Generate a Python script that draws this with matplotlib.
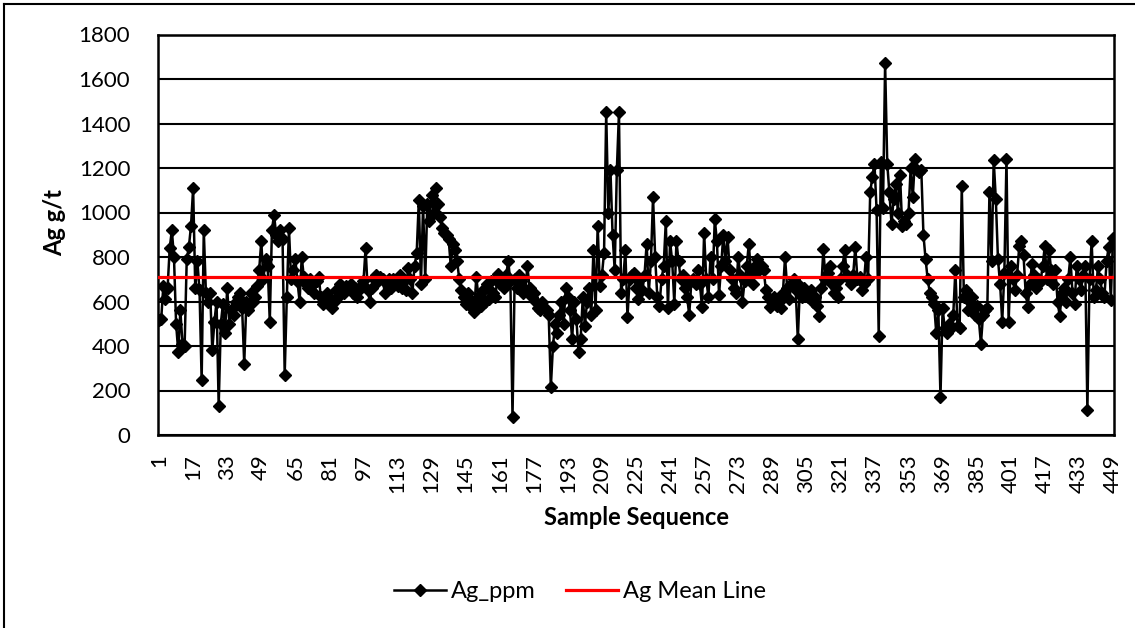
import matplotlib
matplotlib.use('Agg')
import matplotlib.pyplot as plt
from matplotlib.lines import Line2D

plt.rcParams['font.family'] = ['Lato', 'DejaVu Sans']

# Ag_ppm values, sample 1..449
ag_ppm = [
    515, 520, 670, 610, 660, 840, 920, 800, 500, 375,
    560, 410, 400, 790, 845, 940, 1110, 660, 780, 650,
    245, 920, 640, 600, 640, 380, 510, 600, 130, 500,
    590, 460, 660, 500, 560, 540, 600, 620, 640, 570,
    320, 600, 560, 640, 600, 620, 670, 740, 870, 700,
    790, 760, 510, 920, 990, 900, 870, 920, 880, 270,
    620, 930, 700, 740, 790, 690, 600, 800, 710, 680,
    660, 700, 675, 640, 690, 710, 620, 590, 610, 640,
    620, 570, 600, 650, 620, 680, 650, 640, 670, 660,
    680, 640, 660, 620, 650, 670, 690, 840, 650, 600,
    660, 700, 720, 690, 710, 700, 640, 680, 700, 660,
    700, 690, 670, 720, 660, 690, 650, 750, 700, 640,
    760, 820, 1055, 680, 1030, 700, 1040, 960, 1080, 1000,
    1110, 1040, 980, 930, 910, 900, 880, 760, 860, 830,
    780, 700, 650, 620, 590, 640, 580, 600, 555, 710,
    620, 580, 650, 600, 680, 610, 690, 640, 620, 725,
    680, 700, 660, 720, 780, 690, 80, 700, 660, 720,
    690, 640, 650, 760, 660, 620, 640, 600, 570, 560,
    600, 570, 560, 540, 215, 400, 500, 460, 540, 600,
    500, 660, 620, 560, 430, 600, 520, 375, 430, 620,
    490, 600, 660, 540, 830, 560, 940, 670, 720, 820,
    1450, 1000, 1190, 900, 740, 1190, 1450, 640, 700, 830, 530,
    700, 720, 730, 660, 610, 700, 650, 720, 860,
    640, 780, 1070, 800, 620, 580, 700, 760, 960, 570,
    870, 780, 590, 870, 780, 700, 720, 660, 620, 540,
    690, 700, 680, 740, 680, 575, 910, 700, 620, 800,
    700, 970, 870, 630, 760, 900, 780, 890, 740, 700,
    660, 640, 800, 720, 600, 690, 760, 860, 720, 680, 760,
    790, 740, 760, 740, 650, 620, 575, 600, 620,
    580, 600, 570, 640, 800, 660, 610, 680, 700, 650,
    430, 670, 620, 660, 640, 620, 650, 600, 620, 580,
    535, 660, 835, 700, 730, 760, 680, 640, 660, 620,
    700, 760, 830, 720, 700, 680, 720, 845, 700, 710,
    650, 680, 800, 700, 1090, 1160, 1220, 1010, 445, 1225,
    1020, 1670, 1220, 1090, 950, 1060, 1130, 1000, 1170, 940,
    960, 950, 1000, 1200, 1070, 1240, 1190, 1180, 1190, 900,
    790, 700, 640, 620, 590, 460, 560, 172, 570, 480,
    460, 500, 480, 540, 740, 490, 480, 1120, 620, 650,
    560, 600, 620, 540, 580, 520, 410, 540, 560, 570,
    1090, 780, 1235, 1060, 790, 680, 510, 730, 1240, 510,
    760, 700, 650, 720, 850, 870, 810, 640, 575, 680,
    770, 720, 660, 700, 690, 760, 850, 700, 830, 740,
    680, 740, 600, 535, 640, 660, 600, 700, 800, 640,
    590, 760, 700, 650, 720, 760, 112, 700, 870, 620,
    650, 760, 700, 640, 620, 780, 845, 605, 885,
]
ag_mean = 708
samples = list(range(1, len(ag_ppm) + 1))
tick_samples = list(range(1, 450, 16))
y_ticks = list(range(0, 1801, 200))

fig = plt.figure(figsize=(11.35, 6.28), dpi=100)
ax = fig.add_axes([158 / 1135, 1 - 435 / 628, 956 / 1135, 400.5 / 628])

ax.plot(samples, ag_ppm, color='black', lw=1.8, marker='D', ms=6.5,
        label='Ag_ppm', zorder=3)
ax.plot(samples, [ag_mean] * len(samples), color='red', lw=2.3,
        label='Ag Mean Line', zorder=4)

ax.set_xlim(0.5, 449.5)
ax.set_ylim(0, 1800)
ax.set_yticks(y_ticks)
ax.set_xticks(tick_samples)
ax.set_xticklabels([str(t) for t in tick_samples], rotation=90)
ax.yaxis.grid(True, color='black', lw=1.5)
ax.set_axisbelow(True)
for s in ax.spines.values():
    s.set_color('black')
    s.set_linewidth(1.8)
ax.tick_params(axis='y', length=0, labelsize=16, pad=20)
ax.tick_params(axis='x', length=0, labelsize=16, pad=14)

ax.set_xlabel('Sample Sequence', fontsize=17, fontweight='bold')
ax.xaxis.set_label_coords(0.5, -0.207)
ax.xaxis.label.set_va('center')
ax.set_ylabel('Ag g/t', fontsize=17, fontweight='bold')
ax.yaxis.set_label_coords(-0.108, 0.53)
ax.yaxis.label.set_va('center')

fig.legend(loc='center', bbox_to_anchor=(580 / 1135, 36 / 628), ncol=2,
           frameon=False, fontsize=17, handlelength=2.2, columnspacing=1.3,
           handletextpad=0.2)

# outer chart frame (top and left edges visible)
fig.add_artist(Line2D([4 / 1135, 4 / 1135], [0, 1 - 4 / 628],
                      transform=fig.transFigure, color='black', lw=1.5))
fig.add_artist(Line2D([4 / 1135, 1], [1 - 4 / 628, 1 - 4 / 628],
                      transform=fig.transFigure, color='black', lw=1.5))

fig.savefig('out.png', dpi=100)
